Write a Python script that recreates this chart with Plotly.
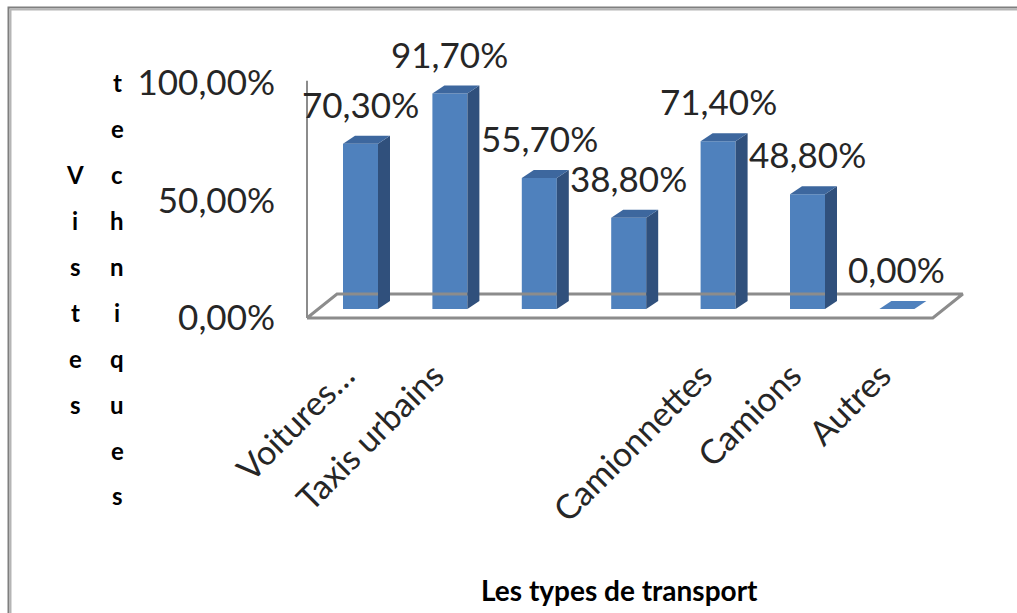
import plotly.graph_objects as go

# ---- data -------------------------------------------------------------
tick_labels = ["Voitures…", "Taxis urbains", "", "", "Camionnettes", "Camions", "Autres"]
values = [70.3, 91.7, 55.7, 38.8, 71.4, 48.8, 0.0]
y_ticks = [0, 50, 100]
y_tick_labels = ["0,00%", "50,00%", "100,00%"]
y_title_words = ["Vistes", "techniques"]
x_title = "Les types de transport"

# ---- geometry of the pseudo-3D frame ------------------------------------
W, H = 1017, 613
PL, PR, PT, PB = 296, 985, 30, 330      # plot area (pixels)
FLOOR_X0, FLOOR_Y0 = 307, 318           # pixel position of (x=-0.5, y=0)
PX_CAT, PX_PCT = 89.4, 2.35             # pixels per category / per percent

x_range = [-0.5 - (FLOOR_X0 - PL) / PX_CAT, -0.5 + (PR - FLOOR_X0) / PX_CAT]
y_range = [-(PB - FLOOR_Y0) / PX_PCT, (FLOOR_Y0 - PT) / PX_PCT]


def paper_x(px):
    return (px - PL) / (PR - PL)


def paper_y(py):
    return (PB - py) / (PB - PT)


FLOOR_DX, FLOOR_DY = 30 / PX_CAT, 24 / PX_PCT
BAR_OFF_X, BAR_BASE = 8.8 / PX_CAT, 9 / PX_PCT
BAR_W = 35 / PX_CAT
BAR_DX, BAR_DY = 12 / PX_CAT, 8 / PX_PCT

FRONT, SIDE, TOP = "#4f81bd", "#30507c", "#3d679e"
FRAME = "#8c8c8c"
FONT = "Lato"
TXT = "#262626"

n = len(values)
fig = go.Figure()

# floor of the chart
fx = [-0.5, n - 0.5, n - 0.5 + FLOOR_DX, -0.5 + FLOOR_DX, -0.5]
fy = [0, 0, FLOOR_DY, FLOOR_DY, 0]
fig.add_trace(go.Scatter(x=fx, y=fy, mode="lines", line=dict(color=FRAME, width=3),
                         hoverinfo="skip", showlegend=False))
# value axis line
fig.add_trace(go.Scatter(x=[-0.5, -0.5], y=[0, 101], mode="lines",
                         line=dict(color=FRAME, width=2), hoverinfo="skip", showlegend=False))

xc = [i + BAR_OFF_X for i in range(n)]

# front faces
fig.add_trace(go.Bar(x=xc, y=values, base=BAR_BASE, width=BAR_W,
                     marker=dict(color=FRONT, line=dict(width=0)), showlegend=False))

# side and top faces
for x0, v in zip(xc, values):
    xl, xr = x0 - BAR_W / 2, x0 + BAR_W / 2
    top = BAR_BASE + v
    if v > 0:
        fig.add_trace(go.Scatter(
            x=[xr, xr + BAR_DX, xr + BAR_DX, xr, xr],
            y=[BAR_BASE, BAR_BASE + BAR_DY, top + BAR_DY, top, BAR_BASE],
            fill="toself", fillcolor=SIDE, mode="lines", line=dict(width=0, color=SIDE),
            hoverinfo="skip", showlegend=False))
    fig.add_trace(go.Scatter(
        x=[xl, xr, xr + BAR_DX, xl + BAR_DX, xl],
        y=[top, top, top + BAR_DY, top + BAR_DY, top],
        fill="toself", fillcolor=TOP if v > 0 else FRONT, mode="lines",
        line=dict(width=0, color=TOP), hoverinfo="skip", showlegend=False))

annotations = []
# data labels
for x0, v in zip(xc, values):
    annotations.append(dict(
        x=x0, y=BAR_BASE + v, xref="x", yref="y", yshift=40,
        text=f"{v:.2f}%".replace(".", ","), showarrow=False,
        xanchor="center", yanchor="middle",
        font=dict(family=FONT, size=35, color=TXT)))

# stacked-letter value axis title
col_x = [75, 117]
col_center = 289
spacing = 46
for cx, word in zip(col_x, y_title_words):
    m = len(word)
    for k, ch in enumerate(word):
        yc = col_center + (k - (m - 1) / 2) * spacing
        annotations.append(dict(
            x=paper_x(cx), y=paper_y(yc), xref="paper", yref="paper",
            text=f"<b>{ch}</b>", showarrow=False, xanchor="center", yanchor="middle",
            font=dict(family=FONT, size=24, color="#000000")))

# category axis title
annotations.append(dict(
    x=paper_x(619), y=paper_y(590), xref="paper", yref="paper",
    text=f"<b>{x_title}</b>", showarrow=False, xanchor="center", yanchor="middle",
    font=dict(family=FONT, size=28, color="#000000")))

# outer chart border (only left and top edges fall inside the page)
shapes = [
    dict(type="rect", xref="paper", yref="paper",
         x0=paper_x(8.5), y0=paper_y(7.5), x1=paper_x(W + 30), y1=paper_y(H + 30),
         line=dict(color="#7f7f7f", width=2)),
    dict(type="rect", xref="paper", yref="paper",
         x0=paper_x(10.5), y0=paper_y(9.5), x1=paper_x(W + 30), y1=paper_y(H + 30),
         line=dict(color="#b5b5b5", width=2)),
]

fig.update_layout(
    width=W, height=H,
    margin=dict(l=PL, r=W - PR, t=PT, b=H - PB, pad=0),
    paper_bgcolor="white", plot_bgcolor="white",
    showlegend=False,
    annotations=annotations,
    shapes=shapes,
    xaxis=dict(range=x_range, tickmode="array", tickvals=list(range(n)), ticktext=tick_labels,
               tickangle=-45, showgrid=False, zeroline=False, showline=False, ticks="",
               ticklabelstandoff=18, ticklabelshift=-7, fixedrange=True,
               tickfont=dict(family=FONT, size=34, color=TXT)),
    yaxis=dict(range=y_range, tickmode="array", tickvals=y_ticks, ticktext=y_tick_labels,
               showgrid=False, zeroline=False, showline=False, ticks="",
               ticklabelstandoff=20, fixedrange=True,
               tickfont=dict(family=FONT, size=35, color=TXT)),
)

fig.write_html("out.html")
